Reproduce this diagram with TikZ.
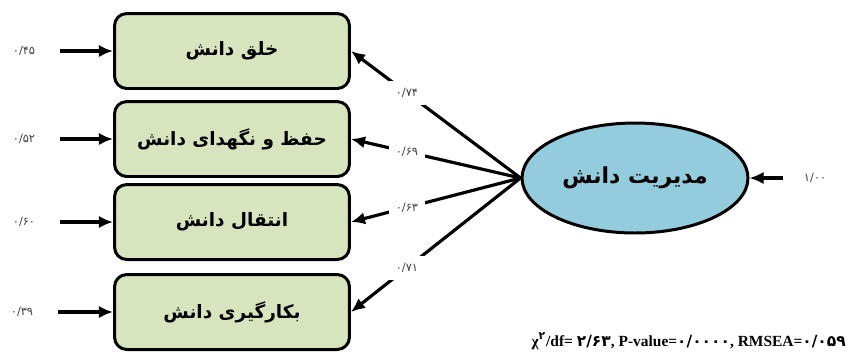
\documentclass[tikz,border=0pt]{standalone}
\usepackage{fontspec}
\setmainfont{Liberation Serif}
\newfontfamily\arabicfont[Script=Arabic]{DejaVu Sans}
\TeXXeTstate=1
\usetikzlibrary{shapes.geometric,arrows.meta}
\definecolor{boxgreen}{RGB}{215,228,189}
\definecolor{ellblue}{RGB}{147,205,221}
\tikzset{
  factor/.style={draw, line width=1.7pt, rounded corners=7pt, fill=boxgreen,
    minimum width=4.7cm, minimum height=1.5cm,
    font=\arabicfont\bfseries\fontsize{10.5}{12}\selectfont},
  latent/.style={ellipse, draw, line width=1.7pt, fill=ellblue,
    minimum width=4.52cm, minimum height=2.2cm,
    font=\arabicfont\bfseries\fontsize{12.5}{14}\selectfont},
  coef/.style={font=\arabicfont\fontsize{6.5}{7}\selectfont, text=black!75},
  arr/.style={-{Latex[length=8pt,width=7pt]}, line width=1.8pt},
}
\begin{document}
\begin{tikzpicture}[x=0.02cm, y=-0.02cm]
\useasboundingbox (0,0) rectangle (854,360);
%\draw[help lines, step=50] (0,0) grid (854,360);
\node[factor] (khalq) at (232,51) {\beginR خلق دانش\endR};
\node[factor] (hefz) at (232,139) {\beginR حفظ و نگهدای دانش\endR};
\node[factor] (enteqal) at (232,222) {\beginR انتقال دانش\endR};
\node[factor] (bekar) at (232,312) {\beginR بکارگیری دانش\endR};
\node[latent] (modir) at (635,178) {\beginR مدیریت دانش\endR};
% errors of the indicators
\node[coef] (e1) at (24,51) {۰/۴۵};
\node[coef] (e2) at (24,139) {۰/۵۲};
\node[coef] (e3) at (24,222) {۰/۶۰};
\node[coef] (e4) at (22,312) {۰/۳۹};
\node[coef] (e5) at (815,178) {۱/۰۰};
\draw[arr] ([xshift=0.38cm]e1.east) -- (khalq.west);
\draw[arr] ([xshift=0.38cm]e2.east) -- (hefz.west);
\draw[arr] ([xshift=0.38cm]e3.east) -- (enteqal.west);
\draw[arr] ([xshift=0.38cm]e4.east) -- (bekar.west);
\draw[arr] ([xshift=-0.3cm]e5.west) -- (modir.east);
% loadings
\draw[arr] (modir.west) -- node[coef, fill=white, inner sep=4pt, pos=0.67] {۰/۷۴} (khalq.east);
\draw[arr] (modir.west) -- node[coef, fill=white, inner sep=4pt, pos=0.67] {۰/۶۹} (hefz.east);
\draw[arr] (modir.west) -- node[coef, fill=white, inner sep=4pt, pos=0.67] {۰/۶۳} (enteqal.east);
\draw[arr] (modir.west) -- node[coef, fill=white, inner sep=4pt, pos=0.67] {۰/۷۱} (bekar.east);
% fit indices
\node[anchor=east, font=\bfseries\fontsize{8.8}{10}\selectfont] (fit) at (852,341)
  {χ\textsuperscript{\arabicfont ۲}/df= {\arabicfont ۲/۶۳}, P-value={\arabicfont ۰/۰۰۰۰}, RMSEA={\arabicfont ۰/۰۵۹}};
\end{tikzpicture}
\end{document}
